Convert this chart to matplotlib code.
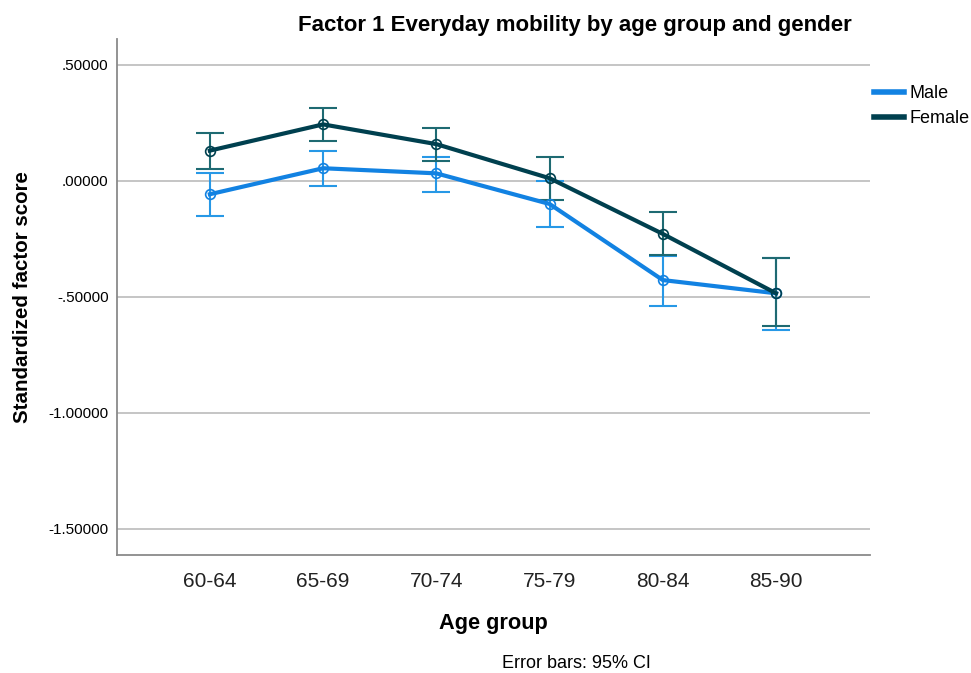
import matplotlib.pyplot as plt
import numpy as np

groups = ["60-64", "65-69", "70-74", "75-79", "80-84", "85-90"]

male_mean = [-0.057, 0.055, 0.033, -0.099, -0.427, -0.484]
male_lo = [-0.150, -0.023, -0.047, -0.197, -0.539, -0.644]
male_hi = [0.033, 0.131, 0.105, 0.000, -0.323, -0.330]

female_mean = [0.131, 0.244, 0.159, 0.012, -0.228, -0.484]
female_lo = [0.050, 0.174, 0.088, -0.082, -0.320, -0.624]
female_hi = [0.208, 0.313, 0.230, 0.102, -0.132, -0.333]

yticks = [0.5, 0.0, -0.5, -1.0, -1.5]
ytick_labels = [".50000", ".00000", "-.50000", "-1.00000", "-1.50000"]

male_col = "#1282e2"
male_err = "#2798e6"
female_col = "#00404f"
female_err = "#1e6a72"

plt.rcParams['font.family'] = ['Liberation Sans', 'DejaVu Sans']

fig = plt.figure(figsize=(9.71, 6.73), dpi=100)
ax = fig.add_axes([117 / 971, 1 - 555 / 673, (870 - 117) / 971, (555 - 39) / 673])

x = np.arange(len(groups))

for mean, lo, hi, lc, ec, lbl in [
    (male_mean, male_lo, male_hi, male_col, male_err, "Male"),
    (female_mean, female_lo, female_hi, female_col, female_err, "Female"),
]:
    mean = np.array(mean)
    yerr = [mean - np.array(lo), np.array(hi) - mean]
    ax.errorbar(x, mean, yerr=yerr, fmt="none", ecolor=ec, elinewidth=1.5,
                capsize=10, capthick=1.5, zorder=3)
    ax.plot(x, mean, color=lc, lw=3, label=lbl, zorder=4,
            marker="o", markersize=7, markerfacecolor="none",
            markeredgecolor=lc, markeredgewidth=1.2)

ax.set_xlim(-0.82, 5.83)
ax.set_ylim((181 - 555) / 232, (181 - 39) / 232)
ax.set_yticks(yticks)
ax.set_yticklabels(ytick_labels, fontsize=11)
ax.set_xticks(x)
ax.set_xticklabels(groups, fontsize=15, color="#222222")
ax.tick_params(axis="x", length=0, pad=12)
ax.tick_params(axis="y", length=0, pad=6)
ax.grid(axis="y", color="#c0c0c0", lw=1.3, zorder=0)

for s in ["top", "right"]:
    ax.spines[s].set_visible(False)
for s in ["left", "bottom"]:
    ax.spines[s].set_color("#8a8a8a")
    ax.spines[s].set_linewidth(1.3)

ax.set_xlabel("Age group", fontsize=15.7, fontweight="bold", labelpad=16)
ax.set_ylabel("Standardized factor score", fontsize=14.8, fontweight="bold", labelpad=12)

fig.text(575 / 971, 1 - 25 / 673, "Factor 1 Everyday mobility by age group and gender",
         ha="center", va="center", fontsize=16, fontweight="bold")
fig.text(576 / 971, 1 - 663 / 673, "Error bars: 95% CI", ha="center", va="center",
         fontsize=13)

leg = fig.legend(*ax.get_legend_handles_labels(), loc="upper left",
                 bbox_to_anchor=(874 / 971, 1 - 85 / 673), frameon=False,
                 fontsize=13, handlelength=1.65, handletextpad=0.3, labelspacing=0.45,
                 borderpad=0, borderaxespad=0)
for h in leg.get_lines():
    h.set_marker("")
    h.set_linewidth(4)

fig.savefig("out.png", dpi=100)
